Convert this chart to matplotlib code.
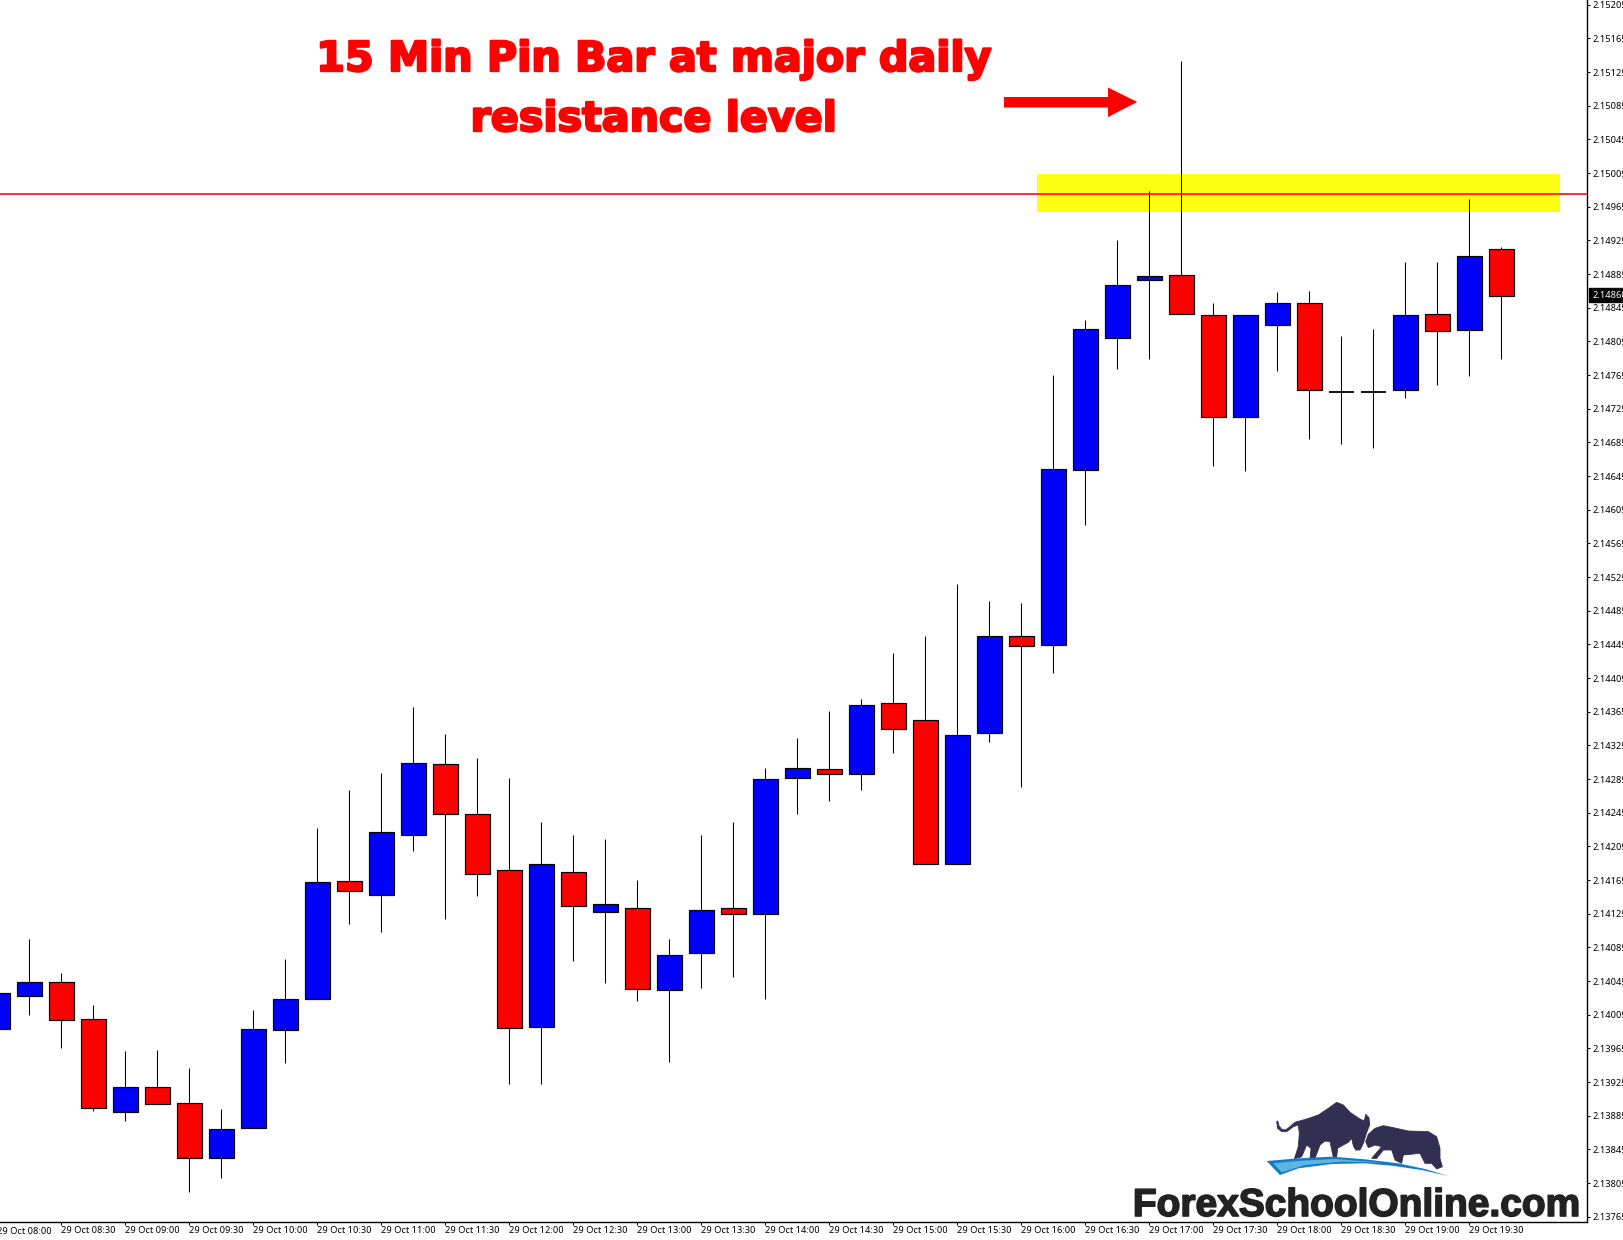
import matplotlib
matplotlib.use("Agg")
import matplotlib.pyplot as plt
import matplotlib.patheffects as pe
from matplotlib.patches import Polygon, Rectangle

W, H = 1624, 1240
AX_R, AX_B = 1587.5, 1222.0

opens = [2.139884,2.140276,2.140435,2.139996,2.138898,2.139188,2.138998,2.138344,2.138701,2.139865,
         2.140233,2.141635,2.141469,2.142182,2.143025,2.142431,2.141766,2.139901,2.141742,2.141267,
         2.141314,2.140340,2.140780,2.141314,2.141243,2.142859,2.142966,2.142906,2.143750,2.143548,
         2.141837,2.143394,2.144546,2.144439,2.146518,2.148087,2.148776,2.148835,2.148360,2.147148,
         2.148241,2.148502,2.147452,2.147452,2.147469,2.148372,2.148182,2.149144]
closes = [2.140304,2.140435,2.139984,2.138938,2.139188,2.138986,2.138344,2.138689,2.139877,2.140233,
          2.141623,2.141517,2.142217,2.143037,2.142431,2.141718,2.139889,2.141837,2.141338,2.141362,
          2.140352,2.140756,2.141291,2.141243,2.142847,2.142978,2.142906,2.143726,2.143441,2.141837,
          2.143370,2.144546,2.144427,2.146530,2.148194,2.148716,2.148823,2.148372,2.147148,2.148360,
          2.148502,2.147469,2.147452,2.147452,2.148360,2.148170,2.149061,2.148593]
highs = [2.140450,2.140950,2.140546,2.140166,2.139619,2.139631,2.139417,2.138930,2.140106,2.140712,
         2.142268,2.142720,2.142922,2.143706,2.143385,2.143100,2.142863,2.142340,2.142185,2.142138,
         2.141651,2.140950,2.142185,2.142340,2.142981,2.143338,2.143659,2.143801,2.144348,2.144550,
         2.145167,2.144965,2.144942,2.147651,2.148304,2.149255,2.149837,2.151381,2.148506,2.148360,
         2.148637,2.148649,2.148114,2.148197,2.148993,2.148993,2.149742,2.149171]
lows = [2.139750,2.140050,2.139658,2.138906,2.138791,2.138986,2.137947,2.138114,2.138701,2.139480,
        2.140233,2.141131,2.141037,2.141999,2.141191,2.141464,2.139230,2.139230,2.140692,2.140430,
        2.140216,2.139492,2.140371,2.140502,2.140240,2.142438,2.142593,2.142723,2.143163,2.141837,
        2.141837,2.143294,2.142759,2.144114,2.145872,2.147725,2.147844,2.148372,2.146573,2.146513,
        2.147702,2.146894,2.146834,2.146787,2.147381,2.147535,2.147642,2.147844]

x_tick_labels = ["29 Oct 08:00","29 Oct 08:30","29 Oct 09:00","29 Oct 09:30","29 Oct 10:00","29 Oct 10:30",
                 "29 Oct 11:00","29 Oct 11:30","29 Oct 12:00","29 Oct 12:30","29 Oct 13:00","29 Oct 13:30",
                 "29 Oct 14:00","29 Oct 14:30","29 Oct 15:00","29 Oct 15:30","29 Oct 16:00","29 Oct 16:30",
                 "29 Oct 17:00","29 Oct 17:30","29 Oct 18:00","29 Oct 18:30","29 Oct 19:00","29 Oct 19:30"]
y_tick_labels = ["2.15205","2.15165","2.15125","2.15085","2.15045","2.15005","2.14965","2.14925","2.14885",
                 "2.14845","2.14805","2.14765","2.14725","2.14685","2.14645","2.14605","2.14565","2.14525",
                 "2.14485","2.14445","2.14405","2.14365","2.14325","2.14285","2.14245","2.14205","2.14165",
                 "2.14125","2.14085","2.14045","2.14005","2.13965","2.13925","2.13885","2.13845","2.13805","2.13765"]
resistance = 2.149801
zone_low, zone_high = 2.149591, 2.150039
zone_start, zone_end = 32.49, 48.84
last_price = 2.14860
title_lines = ["15 Min Pin Bar at major daily", "resistance level"]
brand = "ForexSchoolOnline.com"

UI_FONT = ["Noto Sans", "DejaVu Sans"]

fig = plt.figure(figsize=(W / 100, H / 100), dpi=100, facecolor="white")
ax = fig.add_axes([0, (H - AX_B) / H, AX_R / W, AX_B / H], facecolor="white")
for s in ("top", "left"):
    ax.spines[s].set_visible(False)
for s in ("right", "bottom"):
    ax.spines[s].set_linewidth(1.0)
    ax.spines[s].set_color("black")

idx = list(range(len(opens)))
ax.add_patch(Rectangle((zone_start, zone_low), zone_end - zone_start, zone_high - zone_low,
                       facecolor="#FFFF14", edgecolor="none", zorder=1))
ax.vlines(idx, lows, highs, color="black", linewidth=0.75, zorder=2)
for i, o, c in zip(idx, opens, closes):
    if o == c:
        ax.hlines(o, i - 0.385, i + 0.385, color="black", linewidth=1.3, zorder=3)
    else:
        ax.bar(i, abs(c - o), bottom=min(o, c), width=0.765,
               color="#0000FF" if c > o else "#FF0000",
               edgecolor="black", linewidth=0.85, zorder=3)
ax.axhline(resistance, color="#FF0000", linewidth=1.15, zorder=4)

ax.yaxis.tick_right()
ax.set_yticks([float(s) for s in y_tick_labels])
ax.set_yticklabels(y_tick_labels, family=UI_FONT, fontsize=6.7, color="black")
ax.tick_params(axis="y", length=2.5, width=0.75, pad=1.2, direction="out")
ax.set_xticks(idx[2::2])
ax.set_xticklabels(x_tick_labels[1:], family=UI_FONT, fontsize=6.7, color="black", ha="left")
ax.tick_params(axis="x", length=2.5, width=0.75, pad=0.4, direction="out")
ax.set_xlim(0.0844, 49.69)
ax.set_ylim(2.137587, 2.152106)

ax.text(1.0030, last_price, f"{last_price:.5f}", transform=ax.get_yaxis_transform(),
        family=UI_FONT, fontsize=6.7, color="white", va="center", ha="left", clip_on=False,
        bbox=dict(facecolor="black", edgecolor="black", pad=2.0), zorder=6)

# overlay in pixel coordinates for the drawn annotation, the logo and the cut-off first label
ov = fig.add_axes([0, 0, 1, 1], facecolor="none")
ov.set_xlim(0, W)
ov.set_ylim(H, 0)
ov.axis("off")

ov.text(-3, 1234, x_tick_labels[0], family=UI_FONT, fontsize=6.7, color="black", ha="left", va="baseline")

stroke = [pe.withStroke(linewidth=1.7, foreground="#FF0000")]
ov.text(654, 71, title_lines[0], color="#FF0000", family="DejaVu Sans", weight="bold",
        fontsize=29.7, ha="center", va="baseline", path_effects=stroke)
ov.text(654, 131, title_lines[1], color="#FF0000", family="DejaVu Sans", weight="bold",
        fontsize=29.7, ha="center", va="baseline", path_effects=stroke)
ov.add_patch(Polygon([(1004, 97), (1108, 97), (1108, 87.5), (1137.3, 102), (1108, 117), (1108, 107.5), (1004, 107.5)],
                     closed=True, facecolor="#FF0000", edgecolor="none"))

def logo(points):
    return [(1265 + x / 3, 1095 + y / 3) for x, y in points]

bull = [(35,80),(38,78),(42,92),(50,103),(62,105),(75,95),(90,82),(125,72),(160,60),(190,40),(215,22),(235,30),
        (255,52),(285,72),(298,78),(302,58),(312,68),(314,90),(305,112),(295,145),(285,165),(272,165),(265,152),
        (260,130),(250,142),(235,150),(218,160),(215,185),(205,187),(195,140),(180,138),(165,150),(150,190),
        (135,190),(138,160),(125,150),(110,185),(88,192),(100,155),(103,115),(100,90),(85,95),(65,110),(50,110),(38,100)]
bear = [(302,140),(310,118),(330,100),(355,92),(385,98),(430,108),(490,110),(515,125),(525,160),(525,190),(532,215),
        (515,222),(500,205),(480,205),(465,175),(415,180),(410,205),(390,195),(380,165),(355,165),(335,190),(320,190),
        (350,155),(330,150),(310,158)]
swoosh = [(5,198),(100,190),(200,185),(300,193),(400,205),(480,222),(550,243),(470,225),(380,212),(300,205),
          (200,207),(100,220),(45,240)]
swoosh_in = [(25,205),(110,197),(210,192),(350,203),(230,200),(120,210),(50,232)]
ov.add_patch(Polygon(logo(bull), closed=True, facecolor="#332F52", edgecolor="#332F52", linewidth=0.6))
ov.add_patch(Polygon(logo(bear), closed=True, facecolor="#332F52", edgecolor="#332F52", linewidth=0.6))
ov.add_patch(Polygon(logo(swoosh), closed=True, facecolor="#0F7CC4", edgecolor="none"))
ov.add_patch(Polygon(logo(swoosh_in), closed=True, facecolor="#5FB5DE", edgecolor="none"))
ov.text(1356.5, 1216, brand, color="#222222", family="Liberation Sans", weight="bold", fontsize=28,
        ha="center", va="baseline", path_effects=[pe.withStroke(linewidth=1.2, foreground="#222222")])

fig.savefig("out.png", dpi=100, facecolor="white")
